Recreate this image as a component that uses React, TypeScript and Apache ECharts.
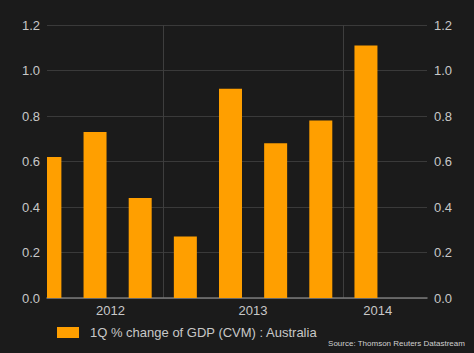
import React, { useEffect, useRef } from "react";
import * as echarts from "echarts";

// Quarter mid-points expressed in years (2012 Q2 .. 2014 Q1)
const quarterPositions = [2012.375, 2012.625, 2012.875, 2013.125, 2013.375, 2013.625, 2013.875, 2014.125];
const gdpChange = [0.62, 0.73, 0.44, 0.27, 0.92, 0.68, 0.78, 1.11];
const yearBoundaries = [2013, 2014];
const yearLabelPositions = [2012.71, 2013.5, 2014.19];
const seriesName = "1Q % change of GDP (CVM) : Australia";
const sourceText = "Source: Thomson Reuters Datastream";

export default function App() {
  const ref = useRef<HTMLDivElement>(null);
  useEffect(() => {
    if (!ref.current) return;
    const chart = echarts.init(ref.current, null, { renderer: "svg" });
    const font = "'Liberation Sans', Arial, sans-serif";
    const labelColor = "#c8c8c8";
    const barColor = "#ff9f00";
    const yAxisBase = {
      type: "value" as const,
      min: 0,
      max: 1.2,
      interval: 0.2,
      axisLine: { show: false },
      axisTick: { show: false },
      axisLabel: {
        color: labelColor,
        fontFamily: font,
        fontSize: 13,
        margin: 7,
        formatter: (v: number) => v.toFixed(1),
      },
    };
    chart.setOption({
      animation: false,
      backgroundColor: "#1b1b1b",
      textStyle: { fontFamily: font },
      grid: { left: 47, right: 47, top: 25, bottom: 55, containLabel: false },
      title: {
        text: sourceText,
        right: 4,
        bottom: 1,
        textStyle: { color: "#d0d0d0", fontSize: 8, fontWeight: "normal", fontFamily: font },
      },
      legend: {
        left: 57,
        top: 326,
        padding: 0,
        itemWidth: 22,
        itemHeight: 11,
        icon: "rect",
        textStyle: { color: labelColor, fontSize: 13, fontFamily: font, padding: [0, 0, 0, 6] },
        data: [{ name: seriesName, itemStyle: { color: barColor } }],
      },
      xAxis: {
        type: "value",
        min: 2012.359,
        max: 2014.463,
        axisLine: { show: true, lineStyle: { color: "#7a7a7a", width: 1.5 } },
        axisTick: { show: false, customValues: yearBoundaries },
        splitLine: { show: true, lineStyle: { color: "#3e3e3e", width: 1 } },
        axisLabel: {
          color: labelColor,
          fontFamily: font,
          fontSize: 13,
          margin: 6,
          customValues: yearLabelPositions,
          formatter: (v: number) => String(Math.floor(v)),
        },
      },
      yAxis: [
        { ...yAxisBase, position: "left", splitLine: { show: true, lineStyle: { color: "#3a3a3a" } } },
        { ...yAxisBase, position: "right", splitLine: { show: false } },
      ],
      series: [
        {
          name: seriesName,
          type: "custom",
          yAxisIndex: 0,
          itemStyle: { color: barColor },
          encode: { x: 0, y: 1 },
          data: quarterPositions.map((x, i) => [x, gdpChange[i]]),
          renderItem: (params: any, api: any) => {
            const xv = api.value(0);
            const yv = api.value(1);
            const base = api.coord([xv, 0]);
            const top = api.coord([xv, yv]);
            const w = 23;
            const cs = params.coordSys;
            const shape = echarts.graphic.clipRectByRect(
              { x: base[0] - w / 2, y: top[1], width: w, height: base[1] - top[1] },
              { x: cs.x, y: cs.y, width: cs.width, height: cs.height }
            );
            if (!shape) return null;
            return { type: "rect", shape, style: { fill: barColor } };
          },
        },
      ],
    });
    return () => chart.dispose();
  }, []);
  return (
    <div
      ref={ref}
      style={{ position: "fixed", left: 0, top: 0, width: 474, height: 353 }}
    />
  );
}
